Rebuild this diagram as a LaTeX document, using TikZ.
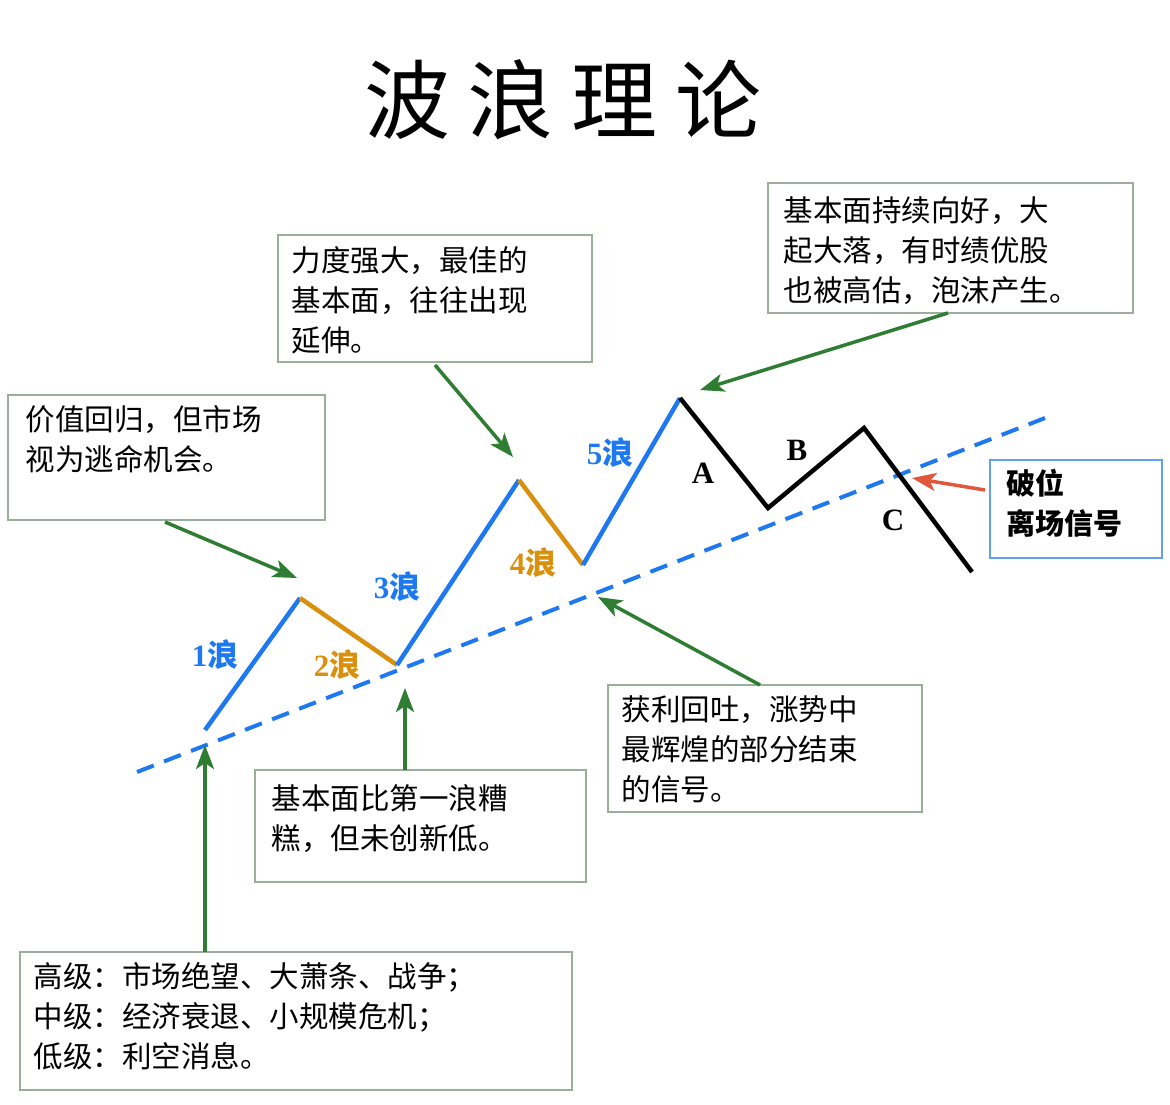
\documentclass[tikz,border=0pt]{standalone}
\usepackage{fontspec}
\setmainfont{Liberation Serif}
\newfontfamily\cjk{Noto Sans CJK SC}
\usetikzlibrary{arrows.meta}
\definecolor{wblue}{HTML}{1E78F0}
\definecolor{worange}{HTML}{D9900F}
\definecolor{wgreen}{HTML}{2E7D32}
\definecolor{wred}{HTML}{E0573C}
\definecolor{wframe}{HTML}{9AAE9A}
\tikzset{
  infobox/.style={draw=wframe, line width=1.2pt},
  infotext/.style={anchor=north west, align=left, font=\cjk\fontsize{29.5}{40}\selectfont},
  callout/.style={draw=wgreen, line width=3.5pt, -{Stealth[length=24pt,width=18pt,inset=6pt]}},
  wavelabel/.style={font=\bfseries\fontsize{31}{31}\selectfont},
  upleg/.style={wblue, line width=4.5pt},
  downleg/.style={worange, line width=4.5pt}
}
\begin{document}
\begin{tikzpicture}[x=1pt, y=-1pt]
\useasboundingbox (0,0) rectangle (1170,1104);
\node (title) at (563,100) {\cjk\fontsize{86}{86}\selectfont 波\hspace{18pt}浪\hspace{18pt}理\hspace{18pt}论};
% wave points
\coordinate (w0) at (205,730);
\coordinate (w1) at (300,598);
\coordinate (w2) at (397,665);
\coordinate (w3) at (519,480);
\coordinate (w4) at (583,565);
\coordinate (w5) at (680,398);
\coordinate (wa) at (768,508);
\coordinate (wb) at (864,428);
\coordinate (wc) at (972,572);
\coordinate (t0) at (137,772);
\coordinate (t1) at (1045,418);
\draw[wblue, line width=4pt, dash pattern=on 18pt off 11pt] (t0) -- (t1);
\draw[upleg] (w0) -- (w1);
\draw[downleg] (w1) -- (w2);
\draw[upleg] (w2) -- (w3);
\draw[downleg] (w3) -- (w4);
\draw[upleg] (w4) -- (w5);
\draw[black, line width=4.5pt, line join=miter] (w5) -- (wa) -- (wb) -- (wc);
% wave labels
\node[wavelabel, wblue] (l1) at (215,655) {1\cjk 浪};
\node[wavelabel, worange] (l2) at (337,665) {2\cjk 浪};
\node[wavelabel, wblue] (l3) at (397,587) {3\cjk 浪};
\node[wavelabel, worange] (l4) at (533,563) {4\cjk 浪};
\node[wavelabel, wblue] (l5) at (610,453) {5\cjk 浪};
\node[wavelabel] (la) at (703,473) {A};
\node[wavelabel] (lb) at (797,450) {B};
\node[wavelabel] (lc) at (893,520) {C};
% boxes
\draw[infobox] (8,395) rectangle (325,520);
\node[infotext] (b1) at (22,402) {价值回归，但市场\\视为逃命机会。};
\draw[infobox] (278,235) rectangle (592,362);
\node[infotext] (b2) at (288,243) {力度强大，最佳的\\基本面，往往出现\\延伸。};
\draw[infobox] (768,183) rectangle (1133,313);
\node[infotext] (b3) at (780,193) {基本面持续向好，大\\起大落，有时绩优股\\也被高估，泡沫产生。};
\draw[infobox, draw=wblue!70] (990,460) rectangle (1162,558);
\node[infotext, font=\cjk\bfseries\fontsize{29}{40}\selectfont] (b4) at (1003,466) {破位\\离场信号};
\draw[infobox] (608,685) rectangle (922,812);
\node[infotext] (b5) at (618,692) {获利回吐，涨势中\\最辉煌的部分结束\\的信号。};
\draw[infobox] (255,770) rectangle (586,882);
\node[infotext] (b6) at (268,781) {基本面比第一浪糟\\糕，但未创新低。};
\draw[infobox] (20,952) rectangle (572,1090);
\node[infotext] (b7) at (30,959) {高级：市场绝望、大萧条、战争；\\中级：经济衰退、小规模危机；\\低级：利空消息。};
% arrows
\coordinate (a1s) at (165,522); \coordinate (a1e) at (297,578);
\coordinate (a2s) at (435,365); \coordinate (a2e) at (513,457);
\coordinate (a3s) at (948,313); \coordinate (a3e) at (700,390);
\coordinate (a5s) at (760,685); \coordinate (a5e) at (598,597);
\coordinate (a6s) at (405,770); \coordinate (a6e) at (405,688);
\coordinate (a7s) at (205,952); \coordinate (a7e) at (205,745);
\coordinate (a4s) at (985,490); \coordinate (a4e) at (912,478);
\draw[callout] (a1s) -- (a1e);
\draw[callout] (a2s) -- (a2e);
\draw[callout] (a3s) -- (a3e);
\draw[callout] (a5s) -- (a5e);
\draw[callout] (a6s) -- (a6e);
\draw[callout] (a7s) -- (a7e);
\draw[callout, draw=wred] (a4s) -- (a4e);
\end{tikzpicture}
\end{document}
